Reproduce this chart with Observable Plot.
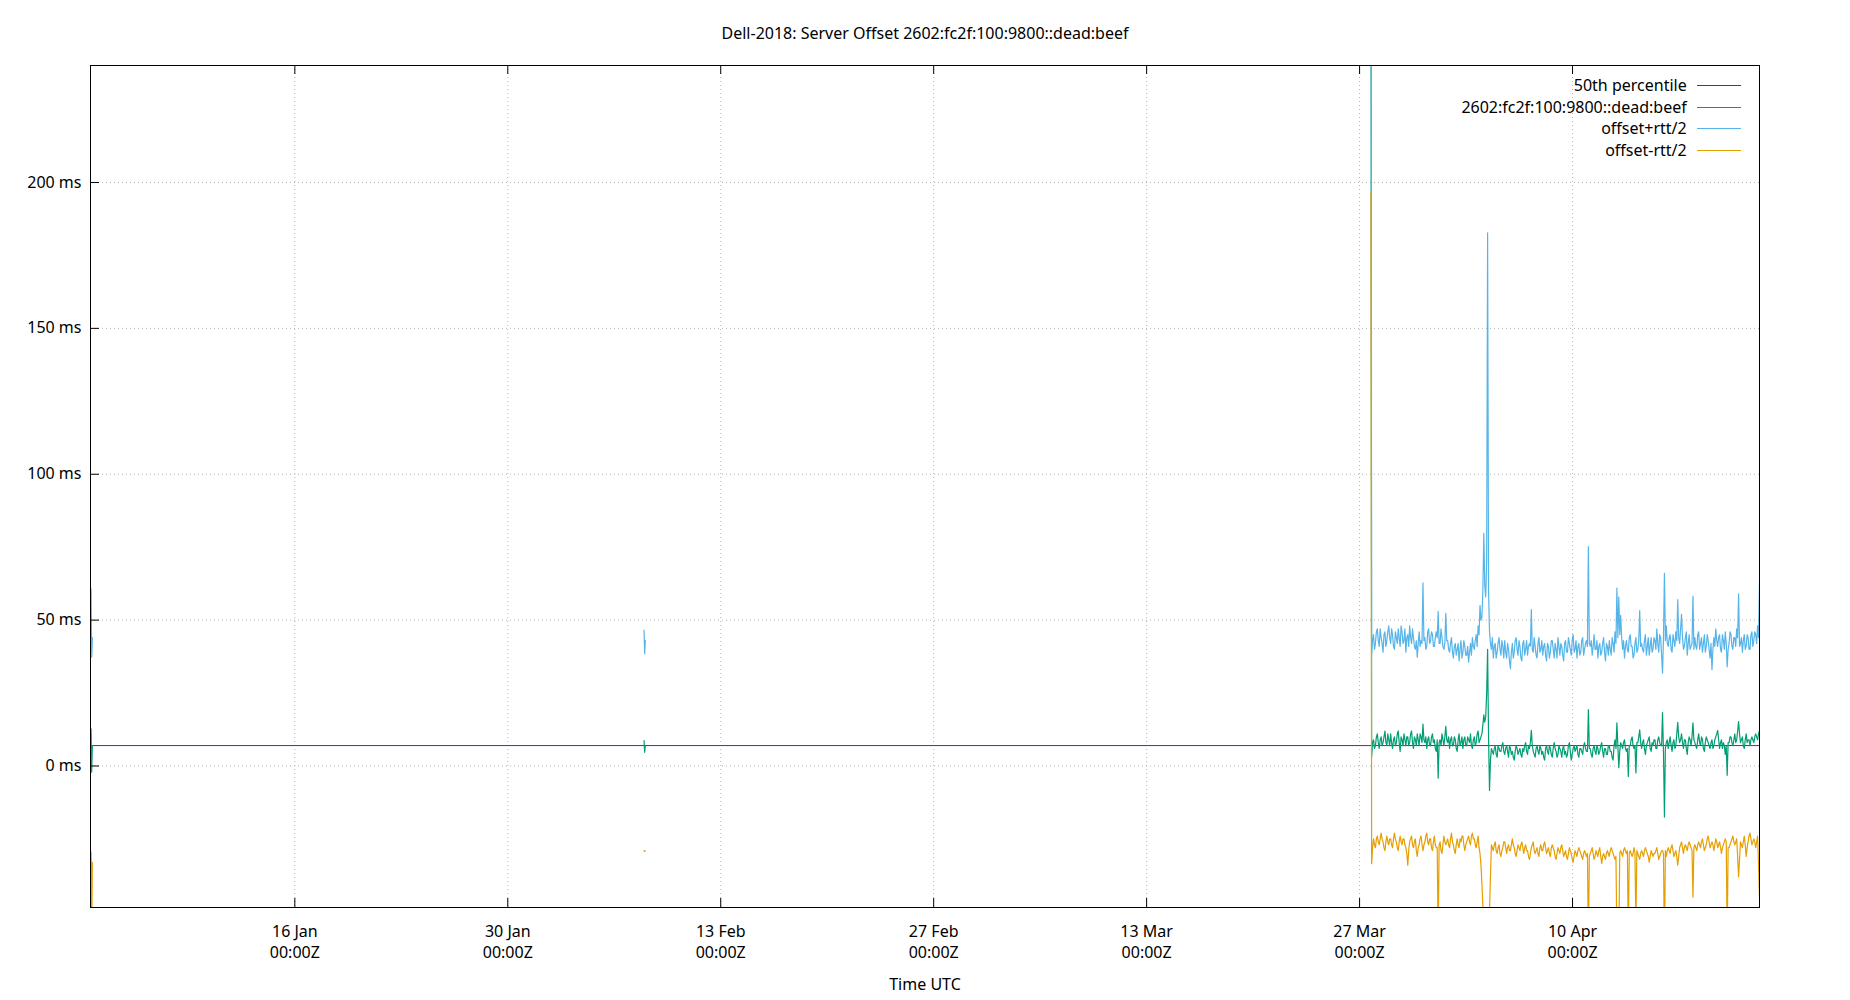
<!DOCTYPE html>
<html>
<head>
<meta charset="utf-8">
<script src="https://cdn.jsdelivr.net/npm/d3@7"></script>
<script src="https://cdn.jsdelivr.net/npm/@observablehq/plot@0.6"></script>
<style>
  body { margin: 0; background: #fff; font-family: "Noto Sans", sans-serif; }
  #wrap { position: relative; width: 1850px; height: 1000px; }
  .lg { position: absolute; font-size: 16px; line-height: 22px; color: #000; white-space: nowrap; text-align: right; }
  .ls { position: absolute; height: 0; width: 44px; }
</style>
</head>
<body>
<div id="wrap"></div>
<script>
// ---------------- data ----------------
const chartTitle = "Dell-2018: Server Offset 2602:fc2f:100:9800::dead:beef";
const xLabel = "Time UTC";
const seriesNames = ["50th percentile", "2602:fc2f:100:9800::dead:beef", "offset+rtt/2", "offset-rtt/2"];
const seriesColors = ["#9400d3", "#009e73", "#56b4e9", "#e69f00"];

const percentileMs = 7.0;

const yTicks = [0, 50, 100, 150, 200];
const xTickDates = ["2025-01-16", "2025-01-30", "2025-02-13", "2025-02-27", "2025-03-13", "2025-03-27", "2025-04-10"];

// short burst at the very start
const burstATimes = ["2025-01-02T13:36:00Z", "2025-01-02T14:30:00Z", "2025-01-02T15:30:00Z", "2025-01-02T16:30:00Z"];
const burstAOffset = [8, 12.7, -2.1, 7];
const burstAUpper = [45, 60.7, 37.3, 44];
const burstALower = [-30, -29.5, -58, -33];

// isolated burst in February
const burstBTimes = ["2025-02-07T23:00:00Z", "2025-02-08T00:00:00Z", "2025-02-08T01:00:00Z"];
const burstBOffset = [8.7, 4.7, 7];
const burstBUpper = [46.5, 38.5, 43];
const burstBLower = [-29, -29.3, -29.1];

// lead sample right before continuous data
const leadTime = "2025-03-27T18:00:00Z";
const leadOffset = 300;
const leadUpper = 400;
const leadLower = 197;

// continuous data: samples every 3 hours (main) plus the samples half-way between them (mid)
const mainStart = "2025-03-27T19:00:00Z";
const mainStepHours = 3;

const mainUpper = [
  38.4, 45, 42, 47, 41, 44, 39, 46, 43, 48,
  42, 45, 40, 44, 47, 41, 46, 43, 39, 45,
  48, 42, 44, 40, 37.3, 46, 43, 62.8, 44, 41,
  47, 43, 45, 41, 46, 53, 42, 44, 40, 52.3,
  43, 39, 44, 37, 42, 40, 36, 43, 39, 41,
  38, 35.6, 42, 44, 40, 45, 48, 55, 51, 79.7,
  58, 182.7, 46, 40, 37, 42, 39, 44, 38, 41,
  43, 37, 40, 33.4, 42, 39, 44, 38, 41, 36,
  43, 40, 38, 42, 53.6, 39, 41, 37, 44, 40,
  38, 42, 36, 41, 39, 43, 37, 40, 44, 38,
  41, 36, 43, 39, 42, 38, 45, 40, 37, 42,
  39, 44, 40, 43, 75.2, 41, 38, 45, 40, 37,
  42, 39, 44, 36, 41, 43, 38, 42, 46, 61,
  57.9, 51.6, 40, 37, 43, 39, 45, 41, 38, 44,
  40, 53.3, 42, 39, 45, 41, 38, 44, 40, 43,
  47, 39, 44, 31.8, 66, 48, 41, 45, 39, 43,
  46, 57, 42, 52, 40, 44, 38, 45, 41, 58.2,
  44, 40, 46, 42, 39, 45, 41, 43, 37, 33,
  44, 47, 41, 45, 39, 43, 46, 34, 42, 45,
  40, 44, 47, 59, 42, 39, 45, 41, 44, 40,
  46, 43, 45, 48, 63
];
const midUpper = [
  43, 40, 46, 43, 47, 42, 45, 41, 46, 44,
  47, 41, 46, 42, 44, 48, 42, 47, 44, 41,
  44, 47, 41, 43, 42, 41, 42, 43, 40, 46,
  42, 46, 41, 44, 44, 42, 47, 41, 42, 43,
  40, 42, 39, 41, 38, 42, 40, 37, 43, 38,
  41, 39, 38, 41, 43, 41, 45, 50, 60, 62,
  70, 60, 42, 44, 41, 37, 42, 40, 43, 37,
  39, 42, 36, 39, 37, 43, 40, 43, 37, 42,
  38, 43, 41, 41, 40, 44, 38, 42, 39, 43,
  41, 38, 42, 37, 43, 40, 42, 37, 41, 42,
  38, 42, 39, 44, 40, 43, 39, 43, 41, 38,
  43, 38, 42, 41, 42, 43, 41, 40, 43, 41,
  38, 42, 39, 42, 38, 40, 44, 39, 42, 44,
  45, 44, 43, 41, 40, 44, 41, 37, 42, 39,
  43, 41, 40, 43, 38, 44, 41, 39, 44, 40,
  42, 45, 38, 44, 43, 42, 44, 40, 45, 41,
  43, 44, 47, 44, 41, 46, 42, 40, 42, 40,
  41, 45, 40, 44, 42, 39, 45, 40, 42, 40,
  41, 43, 44, 40, 45, 40, 42, 40, 46, 41,
  44, 41, 44, 41, 44, 43, 40, 45, 40, 45,
  41, 46, 42, 44
];

const mainOffset = [
  3, 9, 7, 11, 6, 10, 8, 12, 7, 9,
  11, 6, 10, 8, 12, 5, 9, 11, 7, 10,
  8, 12, 6, 9, 11, 7, 10, 14.4, 8, 6,
  10, 7, 11, 9, 5, -4.2, 9, 11, 7, 13.6,
  8, 6, 10, 7, 9, 5, 11, 8, 6, 10,
  7, 9, 11, 6, 10, 8, 12, 9, 11, 17.5,
  17, 40, -8.4, 6, 4, 7, 3, 6, 5, 8,
  4, 7, 3, 6, 5, 2, 7, 4, 6, 3,
  5, 8, 4, 6, 12.2, 5, 3, 7, 4, 6,
  5, 2, 7, 4, 6, 3, 8, 5, 4, 6,
  3, 7, 5, 4, 8, 2, 6, 5, 7, 3,
  6, 4, 8, 5, 19.3, 6, 3, 7, 4, 6,
  5, 8, 3, 6, 4, 7, 5, 2, 9, 14.8,
  -0.6, 8, 6, 9, 5, -3.6, 7, 10, 6, -2.4,
  8, 12.4, 6, 9, 4, 8, 10, 5, 7, 9,
  6, 10, 7, 18.3, -17.5, 8, 6, 10, 5, 9,
  7, 15, 8, 11, 6, 9, 4, 10, 7, 14.8,
  8, 6, 11, 7, 9, 5, 10, 8, 6, 9,
  7, 10, 12.2, 6, 9, 8, 4, -3.2, 8, 10,
  7, 11, 9, 15.2, 8, 10, 6, 11, 9, 7,
  10, 8, 11, 9, 12.2
];
const midOffset = [
  8, 6, 10, 8, 9, 7, 10, 8, 11, 7,
  8, 9, 7, 11, 8, 10, 7, 9, 10, 7,
  11, 8, 10, 7, 9, 11, 8, 9, 10, 9,
  7, 10, 8, 6, 9, 8, 7, 9, 10, 9,
  10, 9, 7, 10, 6, 9, 7, 10, 9, 7,
  10, 8, 7, 9, 7, 11, 8, 10, 14, 15,
  25, 10, 2, 5, 6, 4, 7, 5, 7, 5,
  6, 5, 7, 4, 3, 5, 6, 5, 4, 6,
  7, 5, 7, 8, 7, 4, 6, 5, 7, 4,
  3, 6, 5, 7, 4, 6, 6, 3, 7, 5,
  6, 4, 3, 7, 5, 4, 7, 6, 4, 6,
  5, 7, 6, 5, 6, 4, 6, 5, 7, 4,
  7, 5, 6, 4, 7, 5, 3, 7, 6, 7,
  5, 7, 8, 6, 6, 7, 9, 7, 7, 8,
  10, 8, 8, 6, 7, 9, 6, 8, 9, 6,
  9, 8, 7, 5, 6, 9, 8, 7, 8, 6,
  11, 10, 9, 8, 9, 6, 8, 9, 10, 9,
  7, 9, 8, 10, 6, 8, 9, 7, 8, 6,
  9, 11, 9, 8, 6, 7, 7, 8, 10, 8,
  9, 8, 12, 11, 9, 7, 9, 8, 9, 9,
  9, 10, 10, 11
];

const mainLower = [
  -33.5, -25, -28, -24, -27, -23, -26, -29, -24, -27,
  -25, -28, -23, -26, -29, -24, -27, -25, -28, -34,
  -26, -24, -28, -25, -31, -27, -24, -29, -26, -23,
  -27, -25, -29, -24, -28, -60, -26, -30, -24, -27,
  -25, -28, -23, -27, -30, -25, -28, -26, -24, -29,
  -26, -24, -27, -23, -25, -28, -24, -30, -40, -55,
  -62, -58, -50, -27, -29, -26, -30, -27, -31, -28,
  -26, -30, -27, -29, -25, -28, -31, -27, -29, -26,
  -30, -27, -29, -32, -28, -26, -30, -28, -31, -27,
  -29, -26, -30, -28, -31, -27, -29, -32, -28, -30,
  -27, -31, -29, -32, -28, -30, -33, -29, -31, -28,
  -30, -32, -29, -31, -62, -30, -28, -32, -29, -31,
  -28, -33.5, -30, -32, -29, -31, -28, -30, -32, -60,
  -60, -29, -31, -28, -30, -58, -29, -31, -28, -55,
  -30, -32, -29, -31, -28, -30, -33, -29, -31, -30,
  -28, -32, -30, -29, -65, -31, -28, -30, -27, -31,
  -29, -34, -28, -26, -30, -27, -29, -26, -28, -45,
  -27, -29, -26, -28, -25, -29, -27, -24, -28, -26,
  -29, -25, -28, -26, -30, -27, -25, -60, -28, -26,
  -24, -27, -25, -38, -26, -28, -24, -31, -26, -23,
  -27, -25, -28, -24, -45
];
const midLower = [
  -28, -27, -25, -26, -25, -25, -28, -26, -26, -25,
  -27, -25, -25, -28, -26, -26, -25, -27, -30, -29,
  -25, -27, -26, -29, -28, -25, -27, -27, -24, -26,
  -25, -28, -26, -27, -28, -27, -29, -27, -26, -26,
  -27, -25, -26, -29, -27, -27, -25, -24, -27, -27,
  -25, -26, -24, -25, -27, -26, -28, -34, -48, -58,
  -61, -55, -38, -28, -27, -29, -28, -30, -29, -26,
  -28, -28, -29, -27, -27, -30, -29, -28, -27, -28,
  -28, -29, -31, -30, -27, -29, -29, -30, -28, -29,
  -27, -28, -29, -30, -28, -28, -31, -30, -29, -28,
  -29, -30, -31, -30, -29, -32, -31, -30, -29, -29,
  -31, -30, -30, -30, -31, -29, -30, -31, -30, -29,
  -31, -31, -31, -30, -30, -29, -29, -31, -31, -62,
  -30, -30, -29, -29, -29, -30, -30, -30, -30, -29,
  -31, -30, -30, -29, -29, -31, -31, -30, -30, -29,
  -30, -31, -29, -30, -29, -29, -29, -28, -29, -30,
  -31, -31, -27, -28, -28, -28, -27, -27, -29, -28,
  -28, -27, -27, -26, -27, -28, -25, -26, -27, -27,
  -27, -26, -27, -28, -28, -26, -26, -28, -27, -25,
  -26, -26, -31, -32, -27, -26, -27, -28, -24, -25,
  -26, -26, -26, -34
];

// ---------------- build table ----------------
const rows = [];
burstATimes.forEach((t, i) => rows.push({seg: "A", t: new Date(t), offset: burstAOffset[i], upper: burstAUpper[i], lower: burstALower[i]}));
burstBTimes.forEach((t, i) => rows.push({seg: "B", t: new Date(t), offset: burstBOffset[i], upper: burstBUpper[i], lower: burstBLower[i]}));
rows.push({seg: "C", t: new Date(leadTime), offset: leadOffset, upper: leadUpper, lower: leadLower});
const t0 = new Date(mainStart).getTime();
const stepMs = mainStepHours * 3600e3;
const nMain = Math.min(mainUpper.length, mainOffset.length, mainLower.length);
const nMid = Math.min(midUpper.length, midOffset.length, midLower.length);
for (let i = 0; i < nMain; i++) {
  rows.push({seg: "C", t: new Date(t0 + i * stepMs), offset: mainOffset[i], upper: mainUpper[i], lower: mainLower[i]});
  if (i < nMid && i < nMain - 1) {
    rows.push({seg: "C", t: new Date(t0 + (i + 0.5) * stepMs), offset: midOffset[i], upper: midUpper[i], lower: midLower[i]});
  }
}
const xExtent = d3.extent(rows, d => d.t);
const pctRows = [{t: xExtent[0], v: percentileMs}, {t: xExtent[1], v: percentileMs}];
const xTicks = xTickDates.map(d => new Date(d + "T00:00:00Z"));

// ---------------- layout ----------------
const W = 1850, H = 1000;
const mL = 90, mR = 91, mT = 65, mB = 93;
const frameW = W - mL - mR, frameH = H - mT - mB;
const tickLen = 9;
const dataWidth = 1.2;
const gridStyle = {stroke: "#b4b4b4", strokeOpacity: 1, strokeWidth: 1, strokeDasharray: "1,3"};
const fmtDay = d3.utcFormat("%d %b");
const fmtHour = d3.utcFormat("%H:%MZ");

const chart = Plot.plot({
  width: W, height: H,
  marginLeft: mL, marginRight: mR, marginTop: mT, marginBottom: mB,
  x: {type: "utc", domain: xExtent, label: null},
  y: {domain: [-48.5, 240.1], label: null},
  style: {fontFamily: "Noto Sans", fontSize: "16px", color: "#000", background: "#fff", overflow: "visible"},
  marks: [
    Plot.gridX(xTicks, gridStyle),
    Plot.gridY(yTicks, gridStyle),
    Plot.line(pctRows, {x: "t", y: "v", stroke: seriesColors[0], strokeWidth: 1, clip: true}),
    Plot.line(rows, {x: "t", y: "offset", z: "seg", stroke: seriesColors[1], strokeWidth: dataWidth, clip: true}),
    Plot.line(rows, {x: "t", y: "upper", z: "seg", stroke: seriesColors[2], strokeWidth: dataWidth, clip: true}),
    Plot.line(rows, {x: "t", y: "lower", z: "seg", stroke: seriesColors[3], strokeWidth: dataWidth, clip: true}),
    Plot.frame({stroke: "#000", strokeWidth: 1}),
    Plot.tickY(yTicks, {y: d => d, insetRight: frameW - tickLen, stroke: "#000", strokeWidth: 1}),
    Plot.tickX(xTicks, {x: d => d, insetTop: frameH - tickLen, stroke: "#000", strokeWidth: 1}),
    Plot.tickX(xTicks, {x: d => d, insetBottom: frameH - tickLen, stroke: "#000", strokeWidth: 1}),
    Plot.axisY(yTicks, {tickSize: 0, tickPadding: 9, tickFormat: d => `${d} ms`, label: null}),
    Plot.axisX(xTicks, {tickSize: 0, tickPadding: 14.5, tickFormat: d => `${fmtDay(d)}\n${fmtHour(d)}`, lineHeight: 1.3125, label: null}),
    Plot.text([chartTitle], {text: d => d, frameAnchor: "top", dy: -32, lineAnchor: "middle"}),
    Plot.text([xLabel], {text: d => d, frameAnchor: "bottom", dy: 77, lineAnchor: "middle"})
  ]
});

const wrap = document.getElementById("wrap");
wrap.appendChild(chart);

// legend (inside frame, top right)
const legTextRight = 1686.7, legLineX = 1697, legRow0 = 85, legRowStep = 21.7;
seriesNames.forEach((name, i) => {
  const cy = legRow0 + i * legRowStep;
  const t = document.createElement("div");
  t.className = "lg";
  t.textContent = name;
  t.style.right = (W - legTextRight) + "px";
  t.style.top = (cy - 11) + "px";
  wrap.appendChild(t);
  const l = document.createElement("div");
  l.className = "ls";
  l.style.left = legLineX + "px";
  l.style.top = Math.round(cy) + "px";
  l.style.borderTop = `1px solid ${seriesColors[i]}`;
  wrap.appendChild(l);
});
</script>
</body>
</html>
